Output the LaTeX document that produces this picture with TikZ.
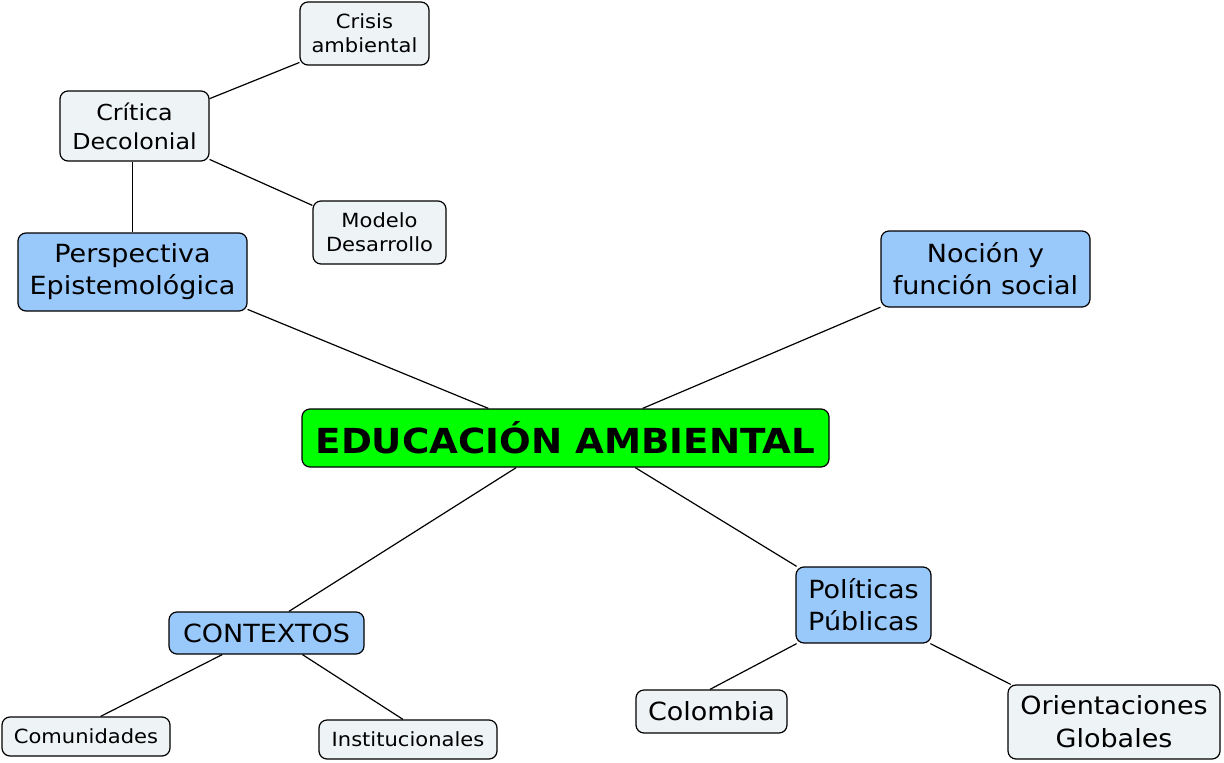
\documentclass[tikz,border=0pt]{standalone}
\usepackage{fontspec}
\setmainfont{DejaVu Sans}[FakeStretch=1.08]
\definecolor{topicblue}{RGB}{153,200,250}
\definecolor{leafgray}{RGB}{238,244,246}
\definecolor{rootgreen}{RGB}{0,255,0}

\begin{document}
\begin{tikzpicture}[x=1pt, y=-1pt,
	box/.style={draw, rounded corners=8pt, line width=1.2pt, inner sep=0pt, align=center},
	root/.style={box, fill=rootgreen, font=\fontsize{34.5}{40}\selectfont\bfseries},
	topic/.style={box, fill=topicblue, font=\fontsize{25}{32}\selectfont},
	leaf/.style={box, fill=leafgray, font=\fontsize{19.5}{24}\selectfont},
	small/.style={font=\fontsize{19.5}{24}\selectfont},
	big/.style={font=\fontsize{22}{29}\selectfont},
	large/.style={font=\fontsize{25}{33}\selectfont},
	every edge/.style={draw, line width=1.2pt}]
	\useasboundingbox (0,0) rectangle (1224,763);

	\node[root, minimum width=527, minimum height=58] (edu) at (565.5,438) {EDUCACIÓN AMBIENTAL};
	\node[topic, minimum width=229, minimum height=78] (persp) at (132.5,272) {Perspectiva\\Epistemológica};
	\node[topic, minimum width=209, minimum height=76] (nocion) at (985.5,269) {Noción y\\función social};
	\node[topic, minimum width=195, minimum height=42] (ctx) at (266.5,633) {CONTEXTOS};
	\node[topic, minimum width=135, minimum height=76] (pol) at (863.5,605) {Políticas\\Públicas};
	\node[leaf, big, minimum width=149, minimum height=70] (critica) at (134.5,126) {Crítica\\Decolonial};
	\node[leaf, minimum width=129, minimum height=63] (crisis) at (364.5,33.5) {Crisis\\ambiental};
	\node[leaf, minimum width=133, minimum height=63] (modelo) at (379.5,232.5) {Modelo\\Desarrollo};
	\node[leaf, small, minimum width=168, minimum height=39] (comun) at (86,736.5) {Comunidades};
	\node[leaf, small, minimum width=178, minimum height=39] (instit) at (408,739.5) {Institucionales};
	\node[leaf, large, minimum width=151, minimum height=43] (col) at (711.5,711.5) {Colombia};
	\node[leaf, large, minimum width=212, minimum height=74] (orient) at (1114,722) {Orientaciones\\Globales};

	\path (critica.20) edge (crisis.204);
	\path (critica.-24) edge (modelo.158);
	\path (persp.north |- critica.south) edge (persp.north);
	\path (persp.-18) edge (edu.159);
	\path (nocion.200.7) edge (edu.21.8);
	\path (edu.211.4) edge (ctx.44.3);
	\path (edu.-23.6) edge (pol.150);
	\path (ctx.206.3) edge (comun.54);
	\path (ctx.-31.8) edge (instit.104);
	\path (pol.210) edge (col.94);
	\path (pol.-30) edge (orient.160.6);
\end{tikzpicture}
\end{document}
